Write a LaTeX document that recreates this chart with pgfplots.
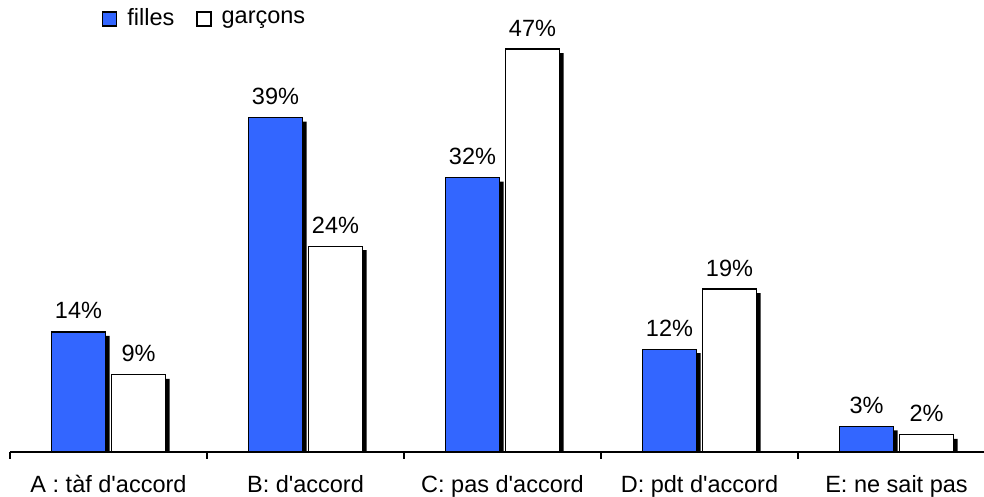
\documentclass[border=0pt]{standalone}
\usepackage{pgfplots}
\pgfplotsset{compat=1.18}
\usepackage{fontspec}
\setmainfont{Liberation Sans}[Ligatures=TeXOff]
\definecolor{fblue}{RGB}{51,102,255}
\begin{document}
\fontsize{23.5}{27}\selectfont
\begin{tikzpicture}
\begin{axis}[
 scale only axis, width=974pt, height=452pt,
 xmin=-0.5, xmax=4.4442, ymin=0, ymax=52.72,
 axis x line=bottom, axis y line=none,
 x axis line style={-, line width=1.2pt},
 xtick={0,1,2,3,4},
 xticklabels={{A : tàf d'accord}, {B: d'accord}, {C: pas d'accord}, {D: pdt d'accord}, {E: ne sait pas}},
 major tick length=0pt,
 minor xtick={-0.5,0.5,1.5,2.5,3.5},
 minor tick length=7pt,
 tick align=outside,
 tick style={line width=1.2pt, black},
 xticklabel style={anchor=base, yshift=-40pt},
 ybar, bar width=54pt,
 legend style={at={(rel axis cs:0.0945,0.958)}, anchor=west, draw=none, fill=none,
   inner sep=0pt, legend columns=2,
   /tikz/every odd column/.append style={column sep=8pt},
   /tikz/every even column/.append style={column sep=20pt}},
]
% shadows
\addplot[forget plot, fill=black, draw=none, bar shift=-30pt,
  transform canvas={xshift=4pt, yshift=-4pt}]
  coordinates {(0,14) (1,39) (2,32) (3,12) (4,3)};
\addplot[forget plot, fill=black, draw=none, bar shift=30pt,
  transform canvas={xshift=4pt, yshift=-4pt}]
  coordinates {(0,9) (1,24) (2,47) (3,19) (4,2)};
% bars
\addplot[fill=fblue, draw=black, line width=1.2pt, bar shift=-30pt,
  nodes near coords={\pgfmathprintnumber[assume math mode=true]{\pgfplotspointmeta}\%},
  nodes near coords style={anchor=base, yshift=13pt},
  legend image code/.code={\draw[fill=fblue, draw=black, line width=1.2pt] (0pt,-7pt) rectangle (14pt,7pt);}]
  coordinates {(0,14) (1,39) (2,32) (3,12) (4,3)};
\addlegendentry{filles}
\addplot[fill=white, draw=black, line width=1.2pt, bar shift=30pt,
  nodes near coords={\pgfmathprintnumber[assume math mode=true]{\pgfplotspointmeta}\%},
  nodes near coords style={anchor=base, yshift=13pt},
  legend image code/.code={\draw[fill=white, draw=black, line width=1.2pt] (0pt,-7pt) rectangle (14pt,7pt);}]
  coordinates {(0,9) (1,24) (2,47) (3,19) (4,2)};
\addlegendentry{garçons}
\end{axis}
\pgfresetboundingbox
\path[use as bounding box] ([xshift=-10pt,yshift=-45pt]current axis.south west) rectangle (current axis.north east);
\end{tikzpicture}
\end{document}
